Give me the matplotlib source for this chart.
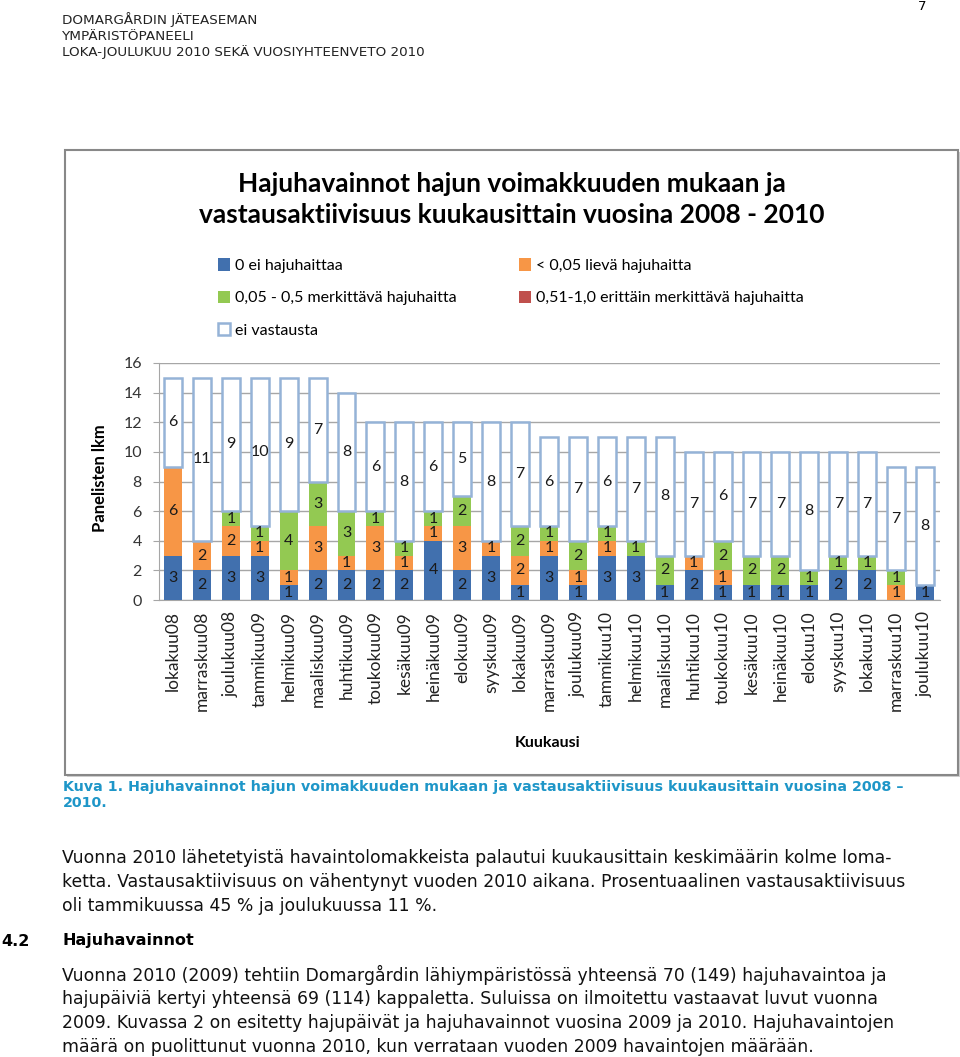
import matplotlib
matplotlib.use('Agg')
import matplotlib.pyplot as plt
from matplotlib.patches import Rectangle
import numpy as np

W, H = 960, 1057

months = ['lokakuu08', 'marraskuu08', 'joulukuu08', 'tammikuu09', 'helmikuu09',
          'maaliskuu09', 'huhtikuu09', 'toukokuu09', 'kesäkuu09', 'heinäkuu09',
          'elokuu09', 'syyskuu09', 'lokakuu09', 'marraskuu09', 'joulukuu09',
          'tammikuu10', 'helmikuu10', 'maaliskuu10', 'huhtikuu10', 'toukokuu10',
          'kesäkuu10', 'heinäkuu10', 'elokuu10', 'syyskuu10', 'lokakuu10',
          'marraskuu10', 'joulukuu10']

ei_haittaa = [3, 2, 3, 3, 1, 2, 2, 2, 2, 4, 2, 3, 1, 3, 1, 3, 3, 1, 2, 1, 1, 1, 1, 2, 2, 0, 1]
lieva = [6, 2, 2, 1, 1, 3, 1, 3, 1, 1, 3, 1, 2, 1, 1, 1, 0, 0, 1, 1, 0, 0, 0, 0, 0, 1, 0]
merkittava = [0, 0, 1, 1, 4, 3, 3, 1, 1, 1, 2, 0, 2, 1, 2, 1, 1, 2, 0, 2, 2, 2, 1, 1, 1, 1, 0]
erittain = [0] * 27
ei_vastausta = [6, 11, 9, 10, 9, 7, 8, 6, 8, 6, 5, 8, 7, 6, 7, 6, 7, 8, 7, 6, 7, 7, 8, 7, 7, 7, 8]

series = [
    ('0 ei hajuhaittaa', ei_haittaa, '#4170AE'),
    ('< 0,05 lievä hajuhaitta', lieva, '#F79646'),
    ('0,05 - 0,5 merkittävä hajuhaitta', merkittava, '#93C952'),
    ('0,51-1,0 erittäin merkittävä hajuhaitta', erittain, '#C0504D'),
    ('ei vastausta', ei_vastausta, 'white'),
]

CHART_FONT = ['Lato', 'DejaVu Sans']
TEXT_FONT = ['DejaVu Sans']


def fx(x):
    return x / W


def fy(y):
    return 1 - y / H


fig = plt.figure(figsize=(W / 100, H / 100), dpi=100)

# page header
header = ['DOMARGÅRDIN JÄTEASEMAN', 'YMPÄRISTÖPANEELI',
          'LOKA-JOULUKUU 2010 SEKÄ VUOSIYHTEENVETO 2010']
for i, line in enumerate(header):
    fig.text(fx(62), fy(20 + 16 * i), line, fontsize=9.7, family=TEXT_FONT,
             color='#222222', va='center', ha='left')
fig.text(fx(922), fy(6), '7', fontsize=9.5, family=TEXT_FONT, va='center', ha='center')

# chart frame
fig.patches.append(Rectangle((fx(67), fy(777)), fx(958 - 65), (775 - 150) / H,
                             transform=fig.transFigure, facecolor='#D0D0D0',
                             edgecolor='none', zorder=-20))
fig.patches.append(Rectangle((fx(65), fy(775)), fx(958 - 65), (775 - 150) / H,
                             transform=fig.transFigure, facecolor='white',
                             edgecolor='#888888', linewidth=1.5, zorder=-10))

fig.text(fx(512), fy(199.5), 'Hajuhavainnot hajun voimakkuuden mukaan ja\n'
         'vastausaktiivisuus kuukausittain vuosina 2008 - 2010',
         fontsize=19, fontweight='bold', family=CHART_FONT, ha='center', va='center',
         linespacing=1.35)

ax = fig.add_axes([fx(158.5), fy(600), (939.5 - 158.5) / W, (600 - 363) / H])
ax.patch.set_alpha(0)

x = np.arange(len(months))
bottom = np.zeros(len(months))
handles = []
for name, vals, col in series:
    vals = np.array(vals)
    if col == 'white':
        bars = ax.bar(x, vals, 0.62, bottom=bottom, color='white',
                      edgecolor='#95B3D7', linewidth=1.8, zorder=3, label=name)
    else:
        bars = ax.bar(x, vals, 0.62, bottom=bottom, color=col,
                      edgecolor='none', zorder=3, label=name)
    for xi, b, v in zip(x, bottom, vals):
        if v > 0:
            ax.text(xi, b + v / 2, str(v), ha='center', va='center',
                    fontsize=11.5, family=CHART_FONT, color='#1A1A1A', zorder=4)
    handles.append(bars)
    bottom += vals

ax.set_xlim(-0.5, len(months) - 0.5)
ax.set_ylim(0, 16)
ax.set_yticks(range(0, 17, 2))
ax.yaxis.grid(True, color='#A6A6A6', linewidth=1)
ax.set_axisbelow(True)
for s in ['top', 'right']:
    ax.spines[s].set_visible(False)
ax.spines['left'].set_color('#A6A6A6')
ax.spines['bottom'].set_color('#A6A6A6')
ax.tick_params(axis='y', length=4, color='#A6A6A6', labelsize=11.5, labelcolor='#333333', pad=8)
ax.tick_params(axis='x', length=0, pad=8)
ax.set_xticks(x)
ax.set_xticklabels(months, rotation=90, fontsize=12.5, family=CHART_FONT, color='#222222')
for lab in ax.get_yticklabels():
    lab.set_family(CHART_FONT)

fig.text(fx(100), fy(478), 'Panelisten lkm', rotation=90, fontsize=12, fontweight='bold',
         family=CHART_FONT, ha='center', va='center')
fig.text(fx(548), fy(743), 'Kuukausi', fontsize=11.5, fontweight='bold',
         family=CHART_FONT, ha='center', va='center')

# legend (row order: blue, orange / green, red / white)
order = [0, 2, 4, 1, 3]
leg = fig.legend([handles[i] for i in order], [series[i][0] for i in order],
                 ncol=2, loc='upper left', bbox_to_anchor=(fx(212), fy(252)),
                 frameon=False, prop={'family': CHART_FONT, 'size': 11.5},
                 handlelength=0.75, handleheight=0.85, handletextpad=0.3,
                 labelspacing=1.08, columnspacing=3.9, borderaxespad=0)

# caption and body text
cap_col = '#1E96C8'
fig.text(fx(63), fy(787), 'Kuva 1. Hajuhavainnot hajun voimakkuuden mukaan ja vastausaktiivisuus '
         'kuukausittain vuosina 2008 –', fontsize=10.3, fontweight='bold', color=cap_col,
         family=TEXT_FONT, va='center', ha='left')
fig.text(fx(63), fy(803), '2010.', fontsize=10.3, fontweight='bold', color=cap_col,
         family=TEXT_FONT, va='center', ha='left')

para1 = ['Vuonna 2010 lähetetyistä havaintolomakkeista palautui kuukausittain keskimäärin kolme loma-',
         'ketta. Vastausaktiivisuus on vähentynyt vuoden 2010 aikana. Prosentuaalinen vastausaktiivisuus',
         'oli tammikuussa 45 % ja joulukuussa 11 %.']
for i, line in enumerate(para1):
    fig.text(fx(62), fy(858 + 24 * i), line, fontsize=12.4, family=TEXT_FONT,
             color='#111111', va='center', ha='left')

fig.text(fx(1), fy(941), '4.2', fontsize=11.5, fontweight='bold', family=TEXT_FONT,
         va='center', ha='left')
fig.text(fx(62), fy(941), 'Hajuhavainnot', fontsize=11.5, fontweight='bold', family=TEXT_FONT,
         va='center', ha='left')

para2 = ['Vuonna 2010 (2009) tehtiin Domargårdin lähiympäristössä yhteensä 70 (149) hajuhavaintoa ja',
         'hajupäiviä kertyi yhteensä 69 (114) kappaletta. Suluissa on ilmoitettu vastaavat luvut vuonna',
         '2009. Kuvassa 2 on esitetty hajupäivät ja hajuhavainnot vuosina 2009 ja 2010. Hajuhavaintojen',
         'määrä on puolittunut vuonna 2010, kun verrataan vuoden 2009 havaintojen määrään.']
for i, line in enumerate(para2):
    fig.text(fx(62), fy(975 + 24 * i), line, fontsize=12.4, family=TEXT_FONT,
             color='#111111', va='center', ha='left')

fig.savefig('out.png', dpi=100)
